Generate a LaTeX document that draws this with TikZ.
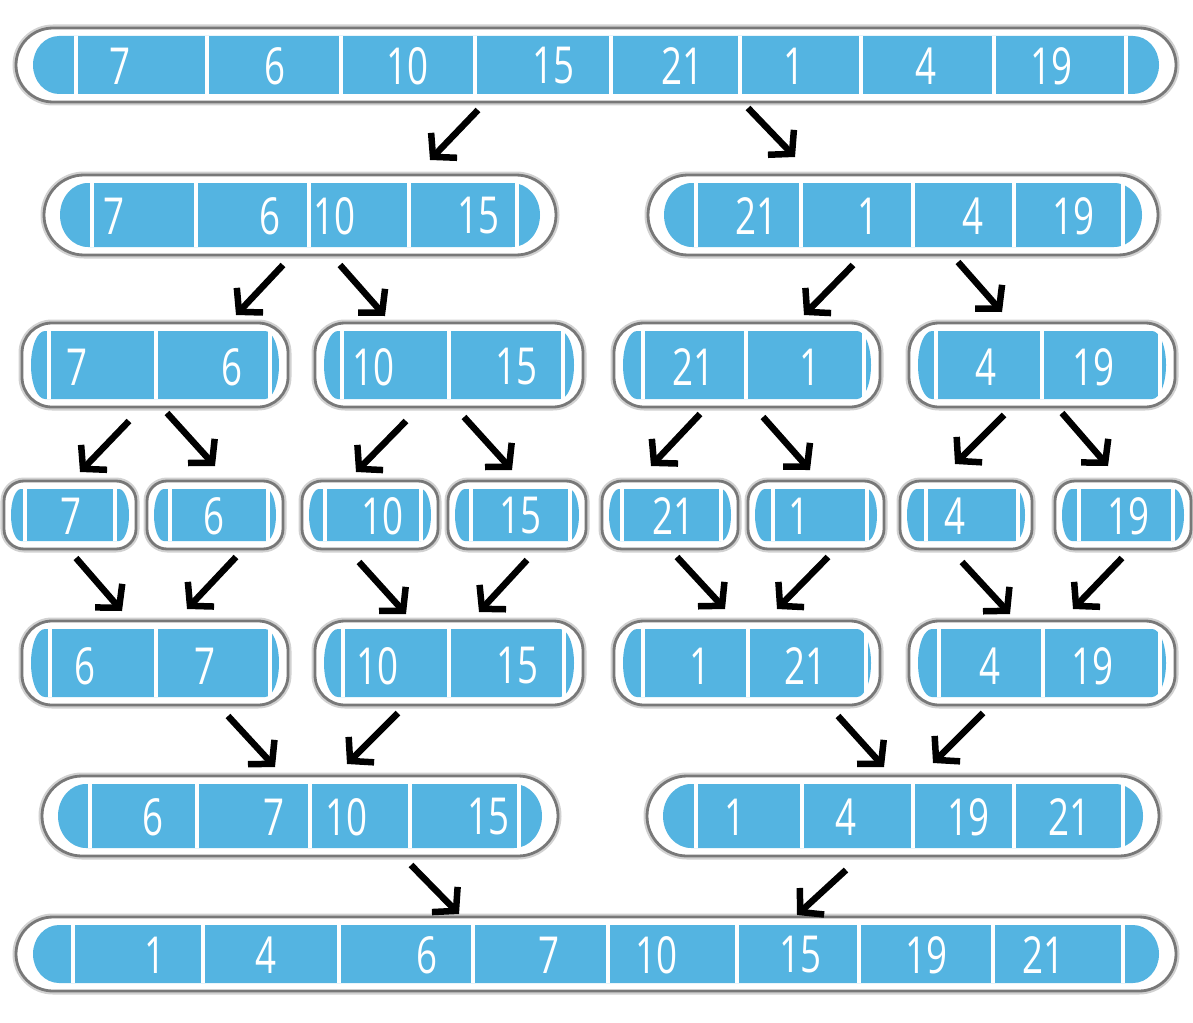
\documentclass[tikz,border=0pt]{standalone}
\usepackage{fontspec}
\newfontfamily\numfont[FakeStretch=0.72]{Open Sans}
\usetikzlibrary{arrows.meta,calc}
\definecolor{pillblue}{RGB}{84,180,225}
\definecolor{pillgray}{RGB}{120,120,120}
\tikzset{
  pillout/.style={draw=pillgray, line width=2.8pt, fill=white, outer sep=0pt, inner sep=0pt,
    preaction={draw=black!18, line width=7pt}},
  sepline/.style={draw=white, line width=3.5pt},
  num/.style={text=white, font=\numfont\fontsize{51}{51}\selectfont, inner sep=0pt},
  arrow/.style={draw=black, line width=6.5pt, -{Straight Barb[length=16pt,width=36pt]}},
}
% #1 name, #2 x1, #3 x2, #4 yc, #5 h, #6 outer radius, #7 inner h-inset, #8 cap x-radius, #9 separators
\newcommand\pill[9]{%
  \pgfmathsetmacro\pilW{#3-#2}%
  \pgfmathsetmacro\pilC{(#2+#3)/2}%
  \pgfmathsetmacro\pilT{#4-#5/2+8}%
  \pgfmathsetmacro\pilB{#4+#5/2-8}%
  \pgfmathsetmacro\pilRy{#5/2-8}%
  \pgfmathsetmacro\pilL{#2+#7+#8}%
  \pgfmathsetmacro\pilR{#3-#7-#8}%
  \node[pillout, minimum width=\pilW pt, minimum height=#5pt, rounded corners=#6pt] (#1) at (\pilC,#4) {};
  \fill[pillblue] (\pilL,\pilT) -- (\pilR,\pilT)
     arc[start angle=90,end angle=-90,x radius=#8pt,y radius=\pilRy pt]
     -- (\pilL,\pilB)
     arc[start angle=270,end angle=90,x radius=#8pt,y radius=\pilRy pt] -- cycle;
  \foreach \s in {#9} \draw[sepline] (\s,\pilT) -- (\s,\pilB);
}
\begin{document}
\begin{tikzpicture}[x=1pt,y=-1pt]
\useasboundingbox (0,0) rectangle (1193,1022);
% row 1
\pill{r1}{16}{1176}{65}{74}{37}{17}{26}{76,207,341,475,611,740,861,994,1126}
\foreach \x/\t [count=\i] in {120/7,275/6,407/10,553/15,682/21,794/1,926/4,1051/19}
  \node[num] (n1-\i) at (\x,66) {\t};
% row 2
\pill{r2a}{44}{556}{215}{80}{40}{16}{28}{92,196,309,409,517}
\pill{r2b}{648}{1158}{215}{80}{40}{16}{28}{696,801,913,1014,1123}
\foreach \x/\t [count=\i] in {114/7,270/6,334/10,478/15,756/21,868/1,973/4,1073/19}
  \node[num] (n2-\i) at (\x,216) {\t};
% row 3
\pill{r3a}{22}{288}{365}{84}{30}{9}{14}{49,156,270}
\pill{r3b}{315}{583}{365}{84}{30}{9}{14}{342,449,563}
\pill{r3c}{614}{880}{365}{84}{30}{9}{14}{643,746,864}
\pill{r3d}{909}{1175}{365}{84}{30}{9}{14}{936,1042,1160}
\foreach \x/\t [count=\i] in {77/7,232/6,373/10,516/15,693/21,810/1,986/4,1093/19}
  \node[num] (n3-\i) at (\x,367) {\t};
% row 4
\pill{r4a}{4}{136}{515}{68}{20}{7}{10}{25,115}
\pill{r4b}{147}{283}{515}{68}{20}{7}{10}{170,268}
\pill{r4c}{302}{438}{515}{68}{20}{7}{10}{325,421}
\pill{r4d}{448}{586}{515}{68}{20}{7}{10}{471,570}
\pill{r4e}{602}{738}{515}{68}{20}{7}{10}{622,721}
\pill{r4f}{748}{884}{515}{68}{20}{7}{10}{773,867}
\pill{r4g}{900}{1032}{515}{68}{20}{7}{10}{926,1018}
\pill{r4h}{1055}{1191}{515}{68}{20}{7}{10}{1079,1173}
\foreach \x/\t [count=\i] in {71/7,214/6,382/10,520/15,673/21,799/1,955/4,1128/19}
  \node[num] (n4-\i) at (\x,516) {\t};
% row 5
\pill{r5a}{22}{288}{663}{84}{30}{9}{14}{50,156,270}
\pill{r5b}{315}{583}{663}{84}{30}{9}{14}{343,449,564}
\pill{r5c}{614}{880}{663}{84}{30}{9}{14}{643,748,866}
\pill{r5d}{909}{1175}{663}{84}{30}{9}{14}{939,1043,1160}
\foreach \x/\t [count=\i] in {85/6,205/7,377/10,517/15,700/1,805/21,990/4,1092/19}
  \node[num] (n5-\i) at (\x,666) {\t};
% row 6
\pill{r6a}{42}{558}{816}{80}{40}{16}{28}{90,197,310,410,519}
\pill{r6b}{647}{1159}{816}{80}{40}{16}{28}{696,802,913,1014,1123}
\foreach \x/\t [count=\i] in {153/6,274/7,346/10,488/15,735/1,846/4,968/19,1069/21}
  \node[num] (n6-\i) at (\x,817) {\t};
% row 7
\pill{r7}{16}{1176}{954}{74}{37}{17}{26}{73,203,339,473,608,737,859,993,1123}
\foreach \x/\t [count=\i] in {155/1,266/4,427/6,549/7,656/10,800/15,926/19,1043/21}
  \node[num] (n7-\i) at (\x,955) {\t};
% arrows
\draw[arrow] ([shift={(-118,8)}]r1.south) -- ([shift={(130,-15)}]r2a.north);
\draw[arrow] ([shift={(152,6)}]r1.south) -- ([shift={(-108,-18)}]r2b.north);
\draw[arrow] ([shift={(-17,10)}]r2a.south) -- ([shift={(81,-8)}]r3a.north);
\draw[arrow] ([shift={(40,10)}]r2a.south) -- ([shift={(-64,-7)}]r3b.north);
\draw[arrow] ([shift={(-50,10)}]r2b.south) -- ([shift={(57,-8)}]r3c.north);
\draw[arrow] ([shift={(55,7)}]r2b.south) -- ([shift={(-40,-11)}]r3d.north);
\draw[arrow] ([shift={(-26,14)}]r3a.south) -- ([shift={(10,-9)}]r4a.north);
\draw[arrow] ([shift={(12,6)}]r3a.south) -- ([shift={(0,-15)}]r4b.north);
\draw[arrow] ([shift={(-43,14)}]r3b.south) -- ([shift={(-14,-9)}]r4c.north);
\draw[arrow] ([shift={(15,10)}]r3b.south) -- ([shift={(-5,-11)}]r4d.north);
\draw[arrow] ([shift={(-47,7)}]r3c.south) -- ([shift={(-19,-15)}]r4e.north);
\draw[arrow] ([shift={(16,10)}]r3c.south) -- ([shift={(-6,-11)}]r4f.north);
\draw[arrow] ([shift={(-38,8)}]r3d.south) -- ([shift={(-11,-17)}]r4g.north);
\draw[arrow] ([shift={(20,6)}]r3d.south) -- ([shift={(-15,-15)}]r4h.north);
\draw[arrow] ([shift={(6,9)}]r4a.south) -- ([shift={(-33,-10)}]r5a.north);
\draw[arrow] ([shift={(21,8)}]r4b.south) -- ([shift={(32,-12)}]r5a.north);
\draw[arrow] ([shift={(-11,13)}]r4c.south) -- ([shift={(-43,-7)}]r5b.north);
\draw[arrow] ([shift={(10,11)}]r4d.south) -- ([shift={(30,-9)}]r5b.north);
\draw[arrow] ([shift={(7,8)}]r4e.south) -- ([shift={(-22,-12)}]r5c.north);
\draw[arrow] ([shift={(12,8)}]r4f.south) -- ([shift={(30,-12)}]r5c.north);
\draw[arrow] ([shift={(-4,13)}]r4g.south) -- ([shift={(-32,-7)}]r5d.north);
\draw[arrow] ([shift={(-1,9)}]r4h.south) -- ([shift={(31,-12)}]r5d.north);
\draw[arrow] ([shift={(73,11)}]r5a.south) -- ([shift={(-25,-9)}]r6a.north);
\draw[arrow] ([shift={(-51,8)}]r5b.south) -- ([shift={(47,-12)}]r6a.north);
\draw[arrow] ([shift={(91,11)}]r5c.south) -- ([shift={(-19,-9)}]r6b.north);
\draw[arrow] ([shift={(-59,8)}]r5d.south) -- ([shift={(30,-13)}]r6b.north);
\draw[arrow] ([shift={(111,9)}]r6a.south) -- ([shift={(-137,-3)}]r7.north);
\draw[arrow] ([shift={(-57,14)}]r6b.south) -- ([shift={(201,-2)}]r7.north);
\end{tikzpicture}
\end{document}
